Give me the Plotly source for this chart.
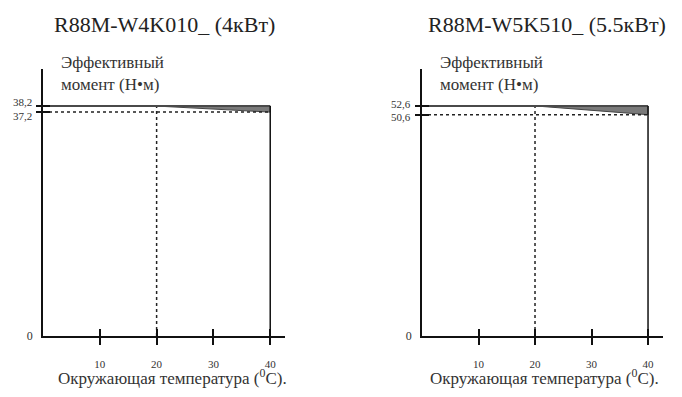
import plotly.graph_objects as go

W, H = 682, 397

# ---------------- data ----------------
titles = ["R88M-W4K010_ (4кВт)", "R88M-W5K510_ (5.5кВт)"]
rated_torque = [38.2, 52.6]          # N·m up to 20 °C
derated_torque = [37.2, 50.6]        # N·m at 40 °C
rated_labels = ["38,2", "52,6"]
derated_labels = ["37,2", "50,6"]
temp_knee = 20                       # °C where derating starts
temp_max = 40                        # °C
x_ticks = [10, 20, 30, 40]
x_tick_text = ["10", "20", "30", "40"]
y_title = "Эффективный<br>момент (Н•м)"
x_title = "Окружающая температура (<sup>0</sup>C)."

# ---------------- layout helpers ----------------
def px(x):
    return x / W

def py(y):
    return 1 - y / H

FONT = "Liberation Serif, Times New Roman, DejaVu Serif, serif"
x_domains = [[px(43), px(285)], [px(422), px(663)]]
x_ranges = [[0, 42.6], [0, 42.65]]
y_domain = [py(342), py(70)]
y_ranges = [[0, 44.4], [0, 61.1]]
title_x = [164, 547]
xtitle_x = [172, 544]
label_shift = [(4, -4), (2, -2)]

fig = go.Figure()
layout = dict(
    width=W, height=H,
    margin=dict(l=0, r=0, t=0, b=0),
    paper_bgcolor="white", plot_bgcolor="white",
    showlegend=False,
    font=dict(family=FONT, color="#222"),
    annotations=[],
)

for i in range(2):
    xa = "x" if i == 0 else "x2"
    ya = "y" if i == 0 else "y2"
    xk = "xaxis" if i == 0 else "xaxis2"
    yk = "yaxis" if i == 0 else "yaxis2"
    top = rated_torque[i]
    low = derated_torque[i]

    # filled derating wedge
    fig.add_trace(go.Scatter(
        x=[temp_knee, temp_max, temp_max, temp_knee],
        y=[top, top, low, top],
        fill="toself", fillcolor="#7a7a7a", mode="lines",
        line=dict(color="#444", width=1), xaxis=xa, yaxis=ya, hoverinfo="skip"))
    # dotted guide lines
    fig.add_trace(go.Scatter(
        x=[0, temp_max], y=[low, low], mode="lines",
        line=dict(color="#222", width=1.5, dash="dot"), xaxis=xa, yaxis=ya))
    fig.add_trace(go.Scatter(
        x=[temp_knee, temp_knee], y=[0, top], mode="lines",
        line=dict(color="#222", width=1.5, dash="dot"), xaxis=xa, yaxis=ya))
    # rated torque line
    fig.add_trace(go.Scatter(
        x=[0, temp_max], y=[top, top], mode="lines",
        line=dict(color="#4a4a4a", width=2), xaxis=xa, yaxis=ya))
    # right limit
    fig.add_trace(go.Scatter(
        x=[temp_max, temp_max], y=[0, top], mode="lines",
        line=dict(color="#111", width=1.5), xaxis=xa, yaxis=ya))

    layout[xk] = dict(
        domain=x_domains[i], range=x_ranges[i], anchor=ya,
        showline=True, linecolor="#111", linewidth=1.5,
        showgrid=False, zeroline=False,
        tickvals=x_ticks, ticktext=x_tick_text, ticks="",
        ticklabelstandoff=17,
        tickfont=dict(family=FONT, size=11, color="#333"),
    )
    layout[yk] = dict(
        domain=y_domain, range=y_ranges[i], anchor=xa,
        showline=True, linecolor="#111", linewidth=1.5,
        showgrid=False, zeroline=False,
        tickvals=[0], ticktext=["0"], ticks="",
        ticklabelstandoff=6,
        tickfont=dict(family=FONT, size=12, color="#333"),
    )
    # overlay axes to draw ticks crossing the axis lines
    ox = "xaxis%d" % (3 + i)
    oy = "yaxis%d" % (3 + i)
    layout[ox] = dict(
        overlaying=xa, range=x_ranges[i], domain=x_domains[i],
        anchor="free", position=y_domain[0] + 8 / H,
        showline=False, showgrid=False, zeroline=False,
        tickvals=x_ticks, ticks="outside", ticklen=16, tickwidth=1.5,
        tickcolor="#111", showticklabels=False,
    )
    layout[oy] = dict(
        overlaying=ya, range=y_ranges[i], domain=y_domain,
        anchor="free", position=x_domains[i][0] + 7 / W,
        showline=False, showgrid=False, zeroline=False,
        tickvals=[low, top], ticks="outside", ticklen=14, tickwidth=1.5,
        tickcolor="#111", showticklabels=False,
    )

    ann = layout["annotations"]
    ann.append(dict(text=rated_labels[i], x=0, y=top, xref=xa, yref=ya,
                    xanchor="right", yanchor="middle", xshift=-9,
                    yshift=label_shift[i][0], showarrow=False,
                    font=dict(family=FONT, size=11, color="#333")))
    ann.append(dict(text=derated_labels[i], x=0, y=low, xref=xa, yref=ya,
                    xanchor="right", yanchor="middle", xshift=-9,
                    yshift=label_shift[i][1], showarrow=False,
                    font=dict(family=FONT, size=11, color="#333")))
    ann.append(dict(text=titles[i], x=px(title_x[i]), y=py(25),
                    xref="paper", yref="paper", xanchor="center",
                    yanchor="middle", showarrow=False,
                    font=dict(family=FONT, size=22, color="#222")))
    ann.append(dict(text=y_title, x=x_domains[i][0] + 16 / W, y=py(52),
                    xref="paper", yref="paper", xanchor="left",
                    yanchor="top", align="left", showarrow=False,
                    font=dict(family=FONT, size=17, color="#333")))
    ann.append(dict(text=x_title, x=px(xtitle_x[i]), y=py(384),
                    xref="paper", yref="paper", xanchor="center",
                    yanchor="middle", showarrow=False,
                    font=dict(family=FONT, size=17, color="#333")))

# dummy traces so overlay axes render
for i in range(2):
    fig.add_trace(go.Scatter(x=[None], y=[None], xaxis="x%d" % (3 + i),
                             yaxis="y%d" % (3 + i), hoverinfo="skip"))

fig.update_layout(**layout)
fig.write_html("out.html", config={"displayModeBar": False},
               post_script="document.body.style.margin='0';")
